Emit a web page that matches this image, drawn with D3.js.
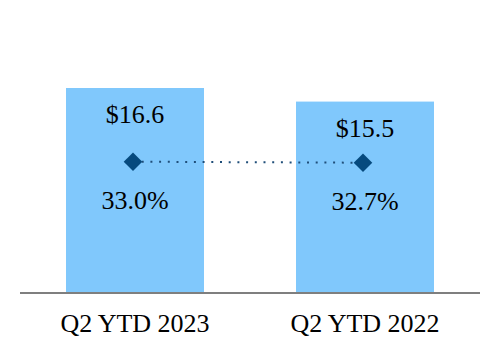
<!DOCTYPE html>
<html>
<head>
<meta charset="utf-8">
<script src="https://cdn.jsdelivr.net/npm/d3@7"></script>
<style>
  html, body { margin: 0; padding: 0; background: #ffffff; }
  svg { display: block; }
  svg text { font-family: "Liberation Serif", "Times New Roman", "DejaVu Serif", serif; }
</style>
</head>
<body>
<svg id="chart" width="500" height="360"></svg>
<script>
const categories = ["Q2 YTD 2023", "Q2 YTD 2022"];
const values = [16.6, 15.5];
const valueLabels = ["$16.6", "$15.5"];
const percents = [33.0, 32.7];
const percentLabels = ["33.0%", "32.7%"];

const svg = d3.select("#chart");
const baseY = 293;

const x = d3.scaleBand().domain(categories).range([20, 480]).paddingInner(0.4).paddingOuter(0.2);
const y = d3.scaleLinear().domain([0, 16.6]).range([baseY, 88]);
const y2 = d3.scaleLinear().domain([20, 40]).range([205, 138.4]);

const font = "Liberation Serif, Times New Roman, serif";

// bars
svg.selectAll("rect.bar").data(values).join("rect")
  .attr("class", "bar")
  .attr("x", (d, i) => x(categories[i]))
  .attr("width", x.bandwidth())
  .attr("y", d => y(d))
  .attr("height", d => baseY - y(d))
  .attr("fill", "#80c8fc");

// baseline axis
const axis = svg.append("g").attr("transform", `translate(0,${baseY})`)
  .call(d3.axisBottom(x).tickSize(0).tickPadding(0));
axis.attr("font-family", null).attr("font-size", null);
axis.select(".domain").attr("stroke", "#7f7f7f").attr("stroke-width", 2).attr("d", "M20,0H480");
axis.selectAll(".tick text")
  .style("font-family", font).style("font-size", "26px").attr("fill", "#000")
  .attr("dy", 0).attr("y", 39);

// value labels
svg.selectAll("text.val").data(values).join("text")
  .attr("class", "val")
  .attr("x", (d, i) => x(categories[i]) + x.bandwidth() / 2)
  .attr("y", d => y(d) + 35)
  .attr("text-anchor", "middle")
  .style("font-family", font).style("font-size", "26px").attr("fill", "#000")
  .text((d, i) => valueLabels[i]);

// dotted connector
const cx = i => x(categories[i]) + x.bandwidth() / 2 - 2;
const line = d3.line().x((d, i) => cx(i)).y(d => y2(d));
svg.append("path").datum(percents)
  .attr("d", line)
  .attr("fill", "none")
  .attr("stroke", "#1f4e79")
  .attr("stroke-width", 2)
  .attr("stroke-dasharray", "2 6.7");

// diamonds
const diamond = d3.symbol().type(d3.symbolDiamond2).size(220);
svg.selectAll("path.pt").data(percents).join("path")
  .attr("class", "pt")
  .attr("transform", (d, i) => `translate(${cx(i)},${y2(d)})`)
  .attr("d", diamond)
  .attr("fill", "#064a7e");

// percent labels
svg.selectAll("text.pct").data(percents).join("text")
  .attr("class", "pct")
  .attr("x", (d, i) => x(categories[i]) + x.bandwidth() / 2)
  .attr("y", d => y2(d) + 47)
  .attr("text-anchor", "middle")
  .style("font-family", font).style("font-size", "26px").attr("fill", "#000")
  .text((d, i) => percentLabels[i]);
</script>
</body>
</html>
